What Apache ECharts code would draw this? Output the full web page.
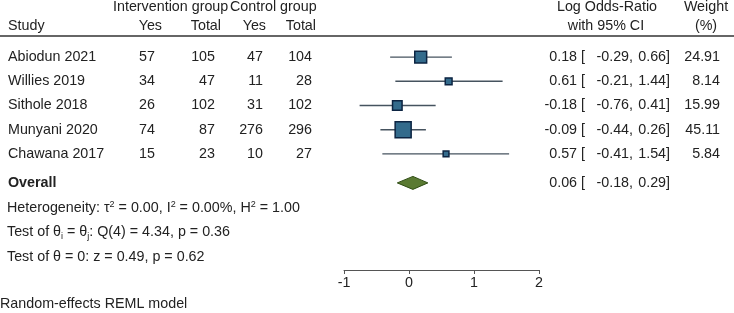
<!DOCTYPE html>
<html>
<head>
<meta charset="utf-8">
<script src="https://cdn.jsdelivr.net/npm/echarts@6/dist/echarts.min.js"></script>
<style>
  html, body { margin: 0; padding: 0; background: #fff; }
  #chart { width: 734px; height: 313px; }
</style>
</head>
<body>
<div id="chart"></div>
<script>
// study data
const studies = ['Abiodun 2021', 'Willies 2019', 'Sithole 2018', 'Munyani 2020', 'Chawana 2017']
const intYes = [57, 34, 26, 74, 15]
const intTotal = [105, 47, 102, 87, 23]
const ctlYes = [47, 11, 31, 276, 10]
const ctlTotal = [104, 28, 102, 296, 27]
const logOR = [0.18, 0.61, -0.18, -0.09, 0.57]
const ciLow = [-0.29, -0.21, -0.76, -0.44, -0.41]
const ciHigh = [0.66, 1.44, 0.41, 0.26, 1.54]
const weights = [24.91, 8.14, 15.99, 45.11, 5.84]
const overall = [0.06, -0.18, 0.29]
const xTicks = [-1, 0, 1, 2]

// row positions on the shared y scale
const overallRow = 5.2
const statRows = [6.25, 7.25, 8.25]
const FONT = '14.3px "Liberation Sans", Arial, sans-serif'
const TXT = '#222'

const fmt = v => v.toFixed(2)

// table text: [x, row, text, align, bold]
let cells = []
cells.push([113, -2.06, 'Intervention group', 'left'])
cells.push([230, -2.06, 'Control group', 'left'])
cells.push([8, -1.28, 'Study', 'left'])
cells.push([162, -1.28, 'Yes', 'right'])
cells.push([221, -1.28, 'Total', 'right'])
cells.push([266, -1.28, 'Yes', 'right'])
cells.push([316, -1.28, 'Total', 'right'])
cells.push([607, -2.06, 'Log Odds-Ratio', 'center'])
cells.push([606, -1.28, 'with 95% CI', 'center'])
cells.push([706, -2.06, 'Weight', 'center'])
cells.push([706, -1.28, '(%)', 'center'])
studies.forEach((s, i) => {
  cells.push([8, i, s, 'left'])
  cells.push([155, i, String(intYes[i]), 'right'])
  cells.push([215, i, String(intTotal[i]), 'right'])
  cells.push([263, i, String(ctlYes[i]), 'right'])
  cells.push([312, i, String(ctlTotal[i]), 'right'])
  cells.push([585, i, fmt(logOR[i]) + ' [', 'right'])
  cells.push([633, i, fmt(ciLow[i]) + ',', 'right'])
  cells.push([670, i, fmt(ciHigh[i]) + ']', 'right'])
  cells.push([720, i, fmt(weights[i]), 'right'])
})
cells.push([8, overallRow, 'Overall', 'left', true])
cells.push([585, overallRow, fmt(overall[0]) + ' [', 'right'])
cells.push([633, overallRow, fmt(overall[1]) + ',', 'right'])
cells.push([670, overallRow, fmt(overall[2]) + ']', 'right'])
cells.push([7, statRows[0], 'Heterogeneity: τ{sup|2} = 0.00, I{sup|2} = 0.00%, H{sup|2} = 1.00', 'left'])
cells.push([7, statRows[1], 'Test of θ{sub|i} = θ{sub|j}: Q(4) = 4.34, p = 0.36', 'left'])
cells.push([7, statRows[2], 'Test of θ = 0: z = 0.49, p = 0.62', 'left'])
cells.push([0, 10.19, 'Random-effects REML model', 'left'])

const ciData = studies.map((s, i) => [ciLow[i], ciHigh[i], i])
const squareData = studies.map((s, i) => [logOR[i], i, weights[i]])

let myChart = echarts.init(document.getElementById('chart'))
let option = {
  animation: false,
  grid: [
    { left: 344, width: 195, top: 45, height: 225 },
    { left: 0, width: 734, top: 45, height: 225 }
  ],
  xAxis: [
    {
      type: 'value', gridIndex: 0, min: -1, max: 2, interval: 1,
      splitLine: { show: false },
      axisLine: { show: true, onZero: false, lineStyle: { color: '#555', width: 1 } },
      axisTick: { show: true, length: 4, lineStyle: { color: '#555' } },
      axisLabel: { color: TXT, fontSize: 14.3, fontFamily: '"Liberation Sans", Arial', margin: 6,
        formatter: v => xTicks.indexOf(v) >= 0 ? String(v) : '' }
    },
    { type: 'value', gridIndex: 1, min: 0, max: 734, show: false }
  ],
  yAxis: [
    { type: 'value', gridIndex: 0, min: -0.5, max: 8.8, inverse: true, show: false },
    { type: 'value', gridIndex: 1, min: -0.5, max: 8.8, inverse: true, show: false }
  ],
  graphic: [
    { type: 'line', shape: { x1: 0, y1: 36, x2: 734, y2: 36 }, style: { stroke: '#333', lineWidth: 1.3 } }
  ],
  series: [
    {
      // confidence intervals
      type: 'custom', xAxisIndex: 0, yAxisIndex: 0, clip: false,
      data: ciData,
      renderItem: (params, api) => {
        const a = api.coord([api.value(0), api.value(2)])
        const b = api.coord([api.value(1), api.value(2)])
        return { type: 'line', shape: { x1: a[0], y1: a[1], x2: b[0], y2: b[1] },
          style: { stroke: '#46535f', lineWidth: 1.4 } }
      }
    },
    {
      // study estimates, box area ~ weight
      type: 'scatter', xAxisIndex: 0, yAxisIndex: 0,
      symbol: 'rect',
      symbolSize: v => 16 * Math.sqrt(v[2] / 45.11),
      itemStyle: { color: '#336b8c', borderColor: '#0c2442', borderWidth: 1.5, opacity: 1 },
      data: squareData
    },
    {
      // overall diamond
      type: 'custom', xAxisIndex: 0, yAxisIndex: 0, clip: false,
      data: [[overall[0], overall[1], overall[2], overallRow]],
      renderItem: (params, api) => {
        const m = api.coord([api.value(0), api.value(3)])
        const l = api.coord([api.value(1), api.value(3)])
        const r = api.coord([api.value(2), api.value(3)])
        return { type: 'polygon',
          shape: { points: [[l[0], l[1]], [m[0], m[1] - 6.5], [r[0], r[1]], [m[0], m[1] + 6.5]] },
          style: { fill: '#5a7a32', stroke: '#2f4d14', lineWidth: 1 } }
      }
    },
    {
      // table text
      type: 'custom', xAxisIndex: 1, yAxisIndex: 1, clip: false, silent: true,
      data: cells.map((c, i) => [c[0], c[1], i]),
      renderItem: (params, api) => {
        const c = cells[api.value(2)]
        const p = api.coord([c[0], c[1]])
        return { type: 'text', x: p[0], y: p[1],
          style: {
            text: c[2], align: c[3], verticalAlign: 'middle',
            font: (c[4] ? 'bold ' : '') + FONT, fill: TXT,
            rich: {
              sup: { fontSize: 9, verticalAlign: 'top', lineHeight: 17, fill: TXT, fontFamily: '"Liberation Sans", Arial' },
              sub: { fontSize: 9, verticalAlign: 'bottom', lineHeight: 17, fill: TXT, fontFamily: '"Liberation Sans", Arial' }
            }
          } }
      }
    }
  ]
}
myChart.setOption(option)
</script>
</body>
</html>
